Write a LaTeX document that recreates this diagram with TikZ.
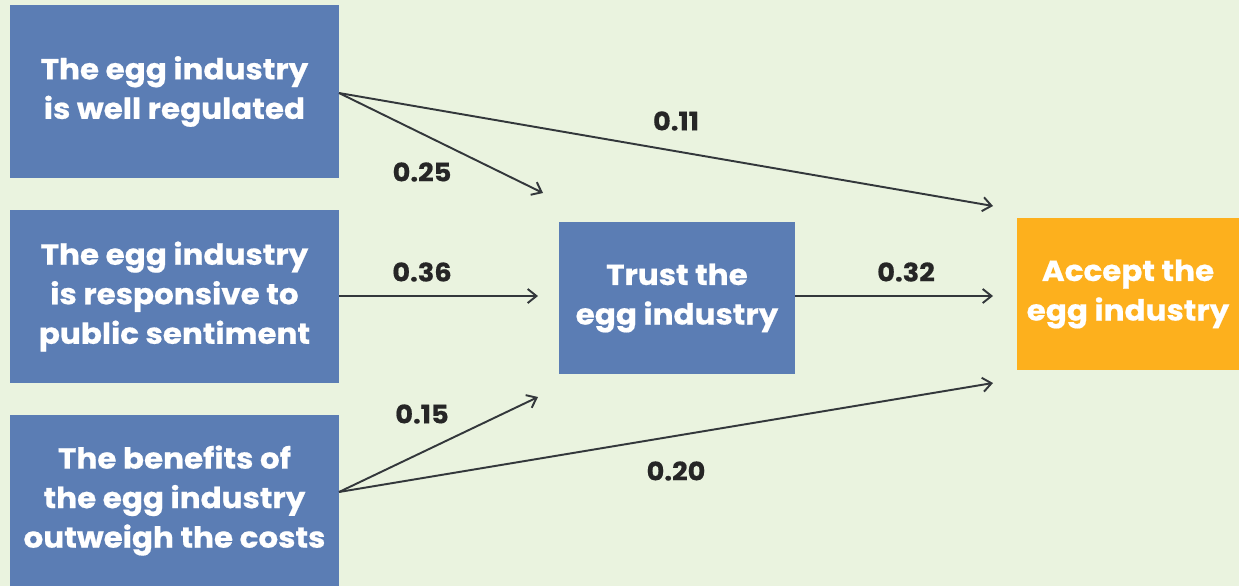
\documentclass[tikz,border=0pt]{standalone}
\usepackage{fontspec}
\setmainfont{Poppins}[FakeStretch=1.07,BoldFeatures={FakeBold=0.6}]
\usetikzlibrary{arrows.meta}
\definecolor{bg}{HTML}{EAF3DF}
\definecolor{boxblue}{HTML}{5B7DB4}
\definecolor{boxorange}{HTML}{FDB01D}
\definecolor{linegray}{HTML}{33373B}
\begin{document}
\begin{tikzpicture}[x=0.02cm,y=-0.02cm,
  box/.style={fill=boxblue,draw=none,text=white,align=center,inner sep=0pt,
    font=\fontsize{16.5}{22.5}\selectfont\bfseries},
  conn/.style={draw=linegray,line width=1.1pt,-{Straight Barb[length=5pt,width=8pt,line width=1.1pt]}},
  lbl/.style={text=black!85,font=\fontsize{14.5}{17}\selectfont\bfseries,inner sep=0pt}]
\fill[bg] (0,0) rectangle (1239,586);
\useasboundingbox (0,0) rectangle (1239,586);
\node[box,minimum width=6.58cm,minimum height=3.46cm] (b1) at (174.5,91.5) {The egg industry\\is well regulated};
\node[box,minimum width=6.58cm,minimum height=3.46cm] (b2) at (174.5,296.5) {The egg industry\\is responsive to\\public sentiment};
\node[box,minimum width=6.58cm,minimum height=3.42cm] (b3) at (174.5,500.5) {The benefits of\\the egg industry\\outweigh the costs};
\node[box,minimum width=4.72cm,minimum height=3.04cm] (tr) at (677,298) {Trust the\\egg industry};
\node[box,fill=boxorange,minimum width=4.44cm,minimum height=3.04cm] (ac) at (1128,294) {Accept the\\egg industry};
% connector endpoints
\coordinate (s1) at (339,93);
\coordinate (s2) at (339,296);
\coordinate (s3) at (339,492);
\coordinate (e1) at (543,193);
\coordinate (e2) at (538,296);
\coordinate (e3) at (538,397);
\coordinate (f1) at (993,206);
\coordinate (f2) at (993,296);
\coordinate (f3) at (993,383);
\draw[conn] (s1) -- (e1);
\draw[conn] (s1) -- (f1);
\draw[conn] (s2) -- (e2);
\draw[conn] (tr.east |- f2) -- (f2);
\draw[conn] (s3) -- (e3);
\draw[conn] (s3) -- (f3);
\node[lbl] (l25) at (422,172) {0.25};
\node[lbl] (l11) at (676,121) {0.11};
\node[lbl] (l36) at (422,272) {0.36};
\node[lbl] (l32) at (906,272) {0.32};
\node[lbl] (l15) at (422,414) {0.15};
\node[lbl] (l20) at (676,471) {0.20};
\end{tikzpicture}
\end{document}
